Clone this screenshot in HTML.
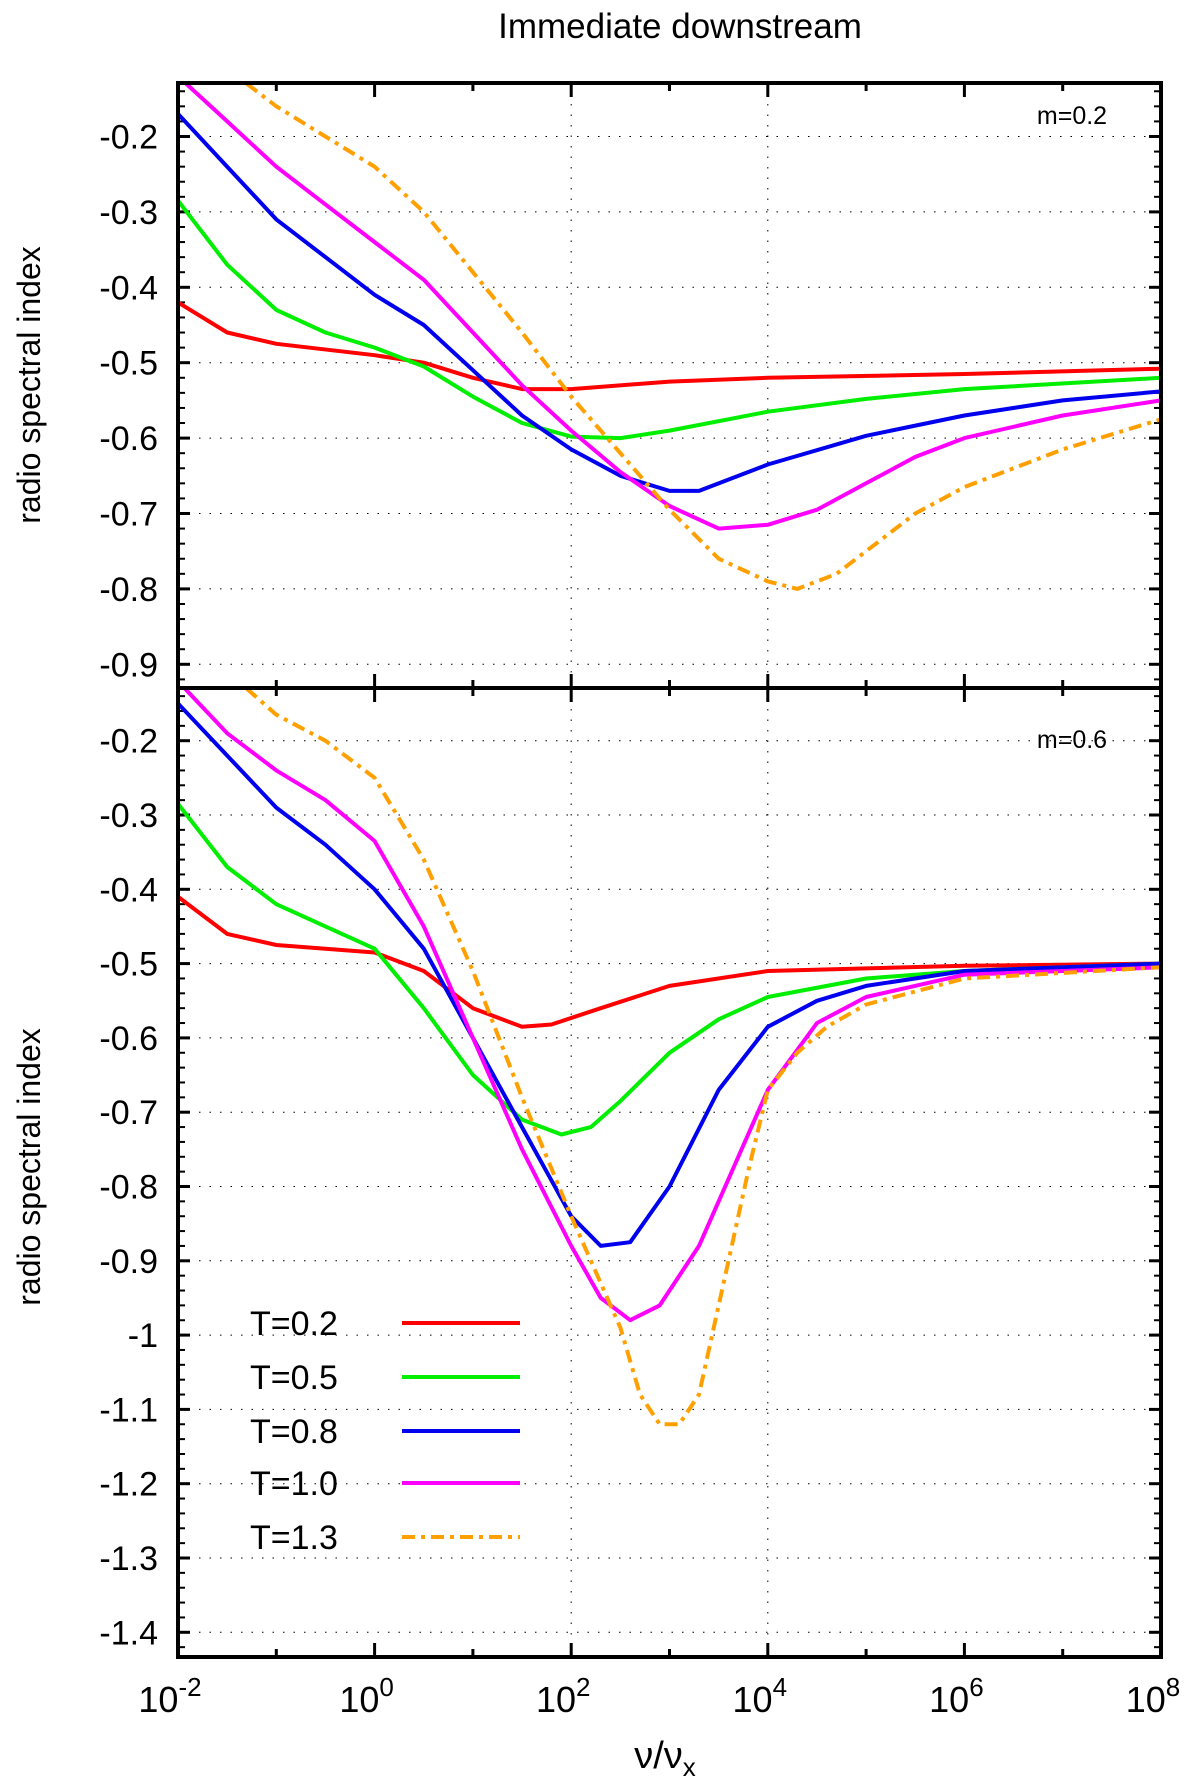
<!DOCTYPE html>
<html><head><meta charset="utf-8"><style>
html,body{margin:0;padding:0;background:#fff;}
svg{display:block;font-family:"Liberation Sans",sans-serif;}
</style></head><body>
<svg id="chart" width="1200" height="1779" viewBox="0 0 1200 1779" xmlns="http://www.w3.org/2000/svg">
<text x="680" y="38" font-size="35" text-anchor="middle">Immediate downstream</text>
<g id="plots"></g>
</svg>
<script>
const seriesNames = ["T=0.2","T=0.5","T=0.8","T=1.0","T=1.3"];
const seriesColors = ["#ff0000","#00ee00","#0000ee","#ff00ff","#ffa000"];
const xTickExps = [-2,0,2,4,6,8];
const topYTicks = [-0.2,-0.3,-0.4,-0.5,-0.6,-0.7,-0.8,-0.9];
const botYTicks = [-0.2,-0.3,-0.4,-0.5,-0.6,-0.7,-0.8,-0.9,-1,-1.1,-1.2,-1.3,-1.4];
// upper panel (m=0.2): [log10(nu/nux), index]
const top02 = [[-2,-0.42],[-1.5,-0.46],[-1,-0.475],[0,-0.49],[0.5,-0.50],[1,-0.52],[1.5,-0.535],[2,-0.535],[3,-0.525],[4,-0.52],[6,-0.515],[8,-0.508]];
const top05 = [[-2,-0.285],[-1.5,-0.37],[-1,-0.43],[-0.5,-0.46],[0,-0.48],[0.5,-0.505],[1,-0.545],[1.5,-0.58],[2,-0.598],[2.5,-0.60],[3,-0.59],[4,-0.565],[5,-0.548],[6,-0.535],[8,-0.52]];
const top08 = [[-2,-0.17],[-1.5,-0.24],[-1,-0.31],[-0.5,-0.36],[0,-0.41],[0.5,-0.45],[1,-0.51],[1.5,-0.57],[2,-0.615],[2.5,-0.65],[3,-0.67],[3.3,-0.67],[4,-0.635],[5,-0.597],[6,-0.57],[7,-0.55],[8,-0.538]];
const top10 = [[-2,-0.12],[-1.5,-0.18],[-1,-0.24],[-0.5,-0.29],[0,-0.34],[0.5,-0.39],[1,-0.46],[1.5,-0.53],[2,-0.59],[2.5,-0.645],[3,-0.69],[3.5,-0.72],[4,-0.715],[4.5,-0.695],[5,-0.66],[5.5,-0.625],[6,-0.60],[7,-0.57],[8,-0.55]];
const top13 = [[-1.3,-0.13],[-1,-0.16],[-0.5,-0.2],[0,-0.24],[0.5,-0.30],[1,-0.38],[1.5,-0.46],[2,-0.545],[2.5,-0.62],[3,-0.695],[3.5,-0.76],[4,-0.79],[4.3,-0.80],[4.7,-0.78],[5,-0.75],[5.5,-0.70],[6,-0.665],[7,-0.615],[8,-0.575]];
// lower panel (m=0.6)
const bot02 = [[-2,-0.41],[-1.5,-0.46],[-1,-0.475],[0,-0.485],[0.5,-0.51],[1,-0.56],[1.5,-0.585],[1.8,-0.582],[2.3,-0.56],[3,-0.53],[4,-0.51],[6,-0.503],[8,-0.50]];
const bot05 = [[-2,-0.285],[-1.5,-0.37],[-1,-0.42],[-0.5,-0.45],[0,-0.48],[0.5,-0.56],[1,-0.65],[1.5,-0.71],[1.9,-0.73],[2.2,-0.72],[2.5,-0.685],[3,-0.62],[3.5,-0.575],[4,-0.545],[5,-0.52],[6,-0.51],[8,-0.50]];
const bot08 = [[-2,-0.15],[-1.5,-0.22],[-1,-0.29],[-0.5,-0.34],[0,-0.40],[0.5,-0.48],[1,-0.60],[1.5,-0.72],[2,-0.84],[2.3,-0.88],[2.6,-0.875],[3,-0.80],[3.5,-0.67],[4,-0.585],[4.5,-0.55],[5,-0.53],[6,-0.51],[8,-0.50]];
const bot10 = [[-2,-0.12],[-1.5,-0.19],[-1,-0.24],[-0.5,-0.28],[0,-0.335],[0.5,-0.45],[1,-0.60],[1.5,-0.75],[2,-0.88],[2.3,-0.95],[2.6,-0.98],[2.9,-0.96],[3.3,-0.88],[3.7,-0.76],[4,-0.67],[4.5,-0.58],[5,-0.545],[6,-0.515],[8,-0.505]];
const bot13 = [[-1.3,-0.13],[-1,-0.165],[-0.5,-0.2],[0,-0.25],[0.5,-0.36],[1,-0.51],[1.5,-0.68],[2,-0.84],[2.5,-0.99],[2.7,-1.08],[2.9,-1.12],[3.1,-1.12],[3.3,-1.08],[3.6,-0.90],[3.8,-0.78],[4,-0.67],[4.3,-0.62],[4.6,-0.585],[5,-0.555],[6,-0.52],[8,-0.505]];

const NS="http://www.w3.org/2000/svg";
const root=document.getElementById('plots');
const X0=178,X1=1161;
const xs=v=>X0+(v+2)/10*(X1-X0);
function mk(tag,attrs,parent){const e=document.createElementNS(NS,tag);for(const k in attrs)e.setAttribute(k,attrs[k]);(parent||root).appendChild(e);return e;}

function panel(id,top,bottom,yRef,yRefPx,pxPer01,ticks,series,mlabel,mY,yTitleY,yMin){
  const ys=v=>yRefPx-(v-yRef)/0.1*pxPer01;
  const g=mk('g',{});
  
  
  const cp=mk('clipPath',{id:id+'-clip'},g);
  mk('rect',{x:X0,y:top,width:X1-X0,height:bottom-top},cp);
  ticks.forEach(t=>{
    const y=ys(t);
    const l=mk('line',{x1:X0,x2:X1,y1:y,y2:y,stroke:'#000','stroke-width':1,'stroke-dasharray':'1.5,9'},g);
    
    
    const tx=mk('text',{x:158,y:y+12,'font-size':34,'text-anchor':'end'},g);
    
    
    tx.textContent=String(t);
    mk('line',{x1:X0,x2:X0+12,y1:y,y2:y,stroke:'#000','stroke-width':3},g);
    mk('line',{x1:X1,x2:X1-12,y1:y,y2:y,stroke:'#000','stroke-width':3},g);
  });
  for(let v=yMin;v<=0;v+=0.02){
    const y=ys(v); if(y<top||y>bottom) continue;
    mk('line',{x1:X0,x2:X0+7,y1:y,y2:y,stroke:'#000','stroke-width':2},g);
    mk('line',{x1:X1,x2:X1-7,y1:y,y2:y,stroke:'#000','stroke-width':2},g);
  }
  [2,4].forEach(e=>{
    const x=xs(e);
    const l=mk('line',{x1:x,x2:x,y1:top,y2:bottom,stroke:'#000','stroke-width':1,'stroke-dasharray':'1.5,9'},g);
    
    
  });
  for(let e=-2;e<=8;e++){
    const x=xs(e),len=(e%2===0)?14:8;
    mk('line',{x1:x,x2:x,y1:bottom,y2:bottom-len,stroke:'#000','stroke-width':3},g);
    mk('line',{x1:x,x2:x,y1:top,y2:top+len,stroke:'#000','stroke-width':3},g);
  }
  series.forEach((s,i)=>{
    const d=s.map((p,j)=>(j?'L':'M')+xs(p[0]).toFixed(1)+','+ys(p[1]).toFixed(1)).join(' ');
    const attrs={d:d,fill:'none',stroke:seriesColors[i],'stroke-width':4,'stroke-linejoin':'round','clip-path':'url(#'+id+'-clip)'};
    if(i===4) attrs['stroke-dasharray']='13,6,4,6';
    const p=mk('path',attrs,g);
    
    
  });
  const ml=mk('text',{x:1072,y:mY,'font-size':25,'text-anchor':'middle'},g);
  
  
  ml.textContent=mlabel;
  const yt=mk('text',{x:0,y:0,'font-size':32,'text-anchor':'middle',transform:'translate(40,'+yTitleY+') rotate(-90)'},g);
  
  
  yt.textContent='radio spectral index';
  return g;
}
panel('top',83,688,-0.4,287.3,75.4,topYTicks,[top02,top05,top08,top10,top13],'m=0.2',124,385,-0.94);
panel('bottom',688,1657,-0.4,889.3,74.3,botYTicks,[bot02,bot05,bot08,bot10,bot13],'m=0.6',748,1167,-1.44);

const fr=mk('rect',{x:X0,y:83,width:X1-X0,height:1657-83,fill:'none',stroke:'#000','stroke-width':4});


const mid=mk('line',{x1:X0,x2:X1,y1:688,y2:688,stroke:'#000','stroke-width':4});



xTickExps.forEach(e=>{
  const t=mk('text',{x:xs(e)-8,y:1712,'font-size':36,'text-anchor':'middle'});
  
  
  t.textContent='10';
  const s=mk('tspan',{dy:-16,'font-size':26},t);
  s.textContent=String(e);
});
const xt=mk('text',{x:665,y:1768,'font-size':38,'text-anchor':'middle'});


xt.textContent='ν/ν';
const xs2=mk('tspan',{dy:8,'font-size':26},xt);
xs2.textContent='x';

const legY=[1323,1377,1431,1483,1537];
seriesNames.forEach((n,i)=>{
  const t=mk('text',{x:250,y:legY[i]+12,'font-size':34});
  
  
  t.textContent=n;
  const a={x1:402,x2:520,y1:legY[i],y2:legY[i],stroke:seriesColors[i],'stroke-width':4};
  if(i===4)a['stroke-dasharray']='13,6,4,6';
  const l=mk('line',a);
  
  
});
</script>
</body></html>
